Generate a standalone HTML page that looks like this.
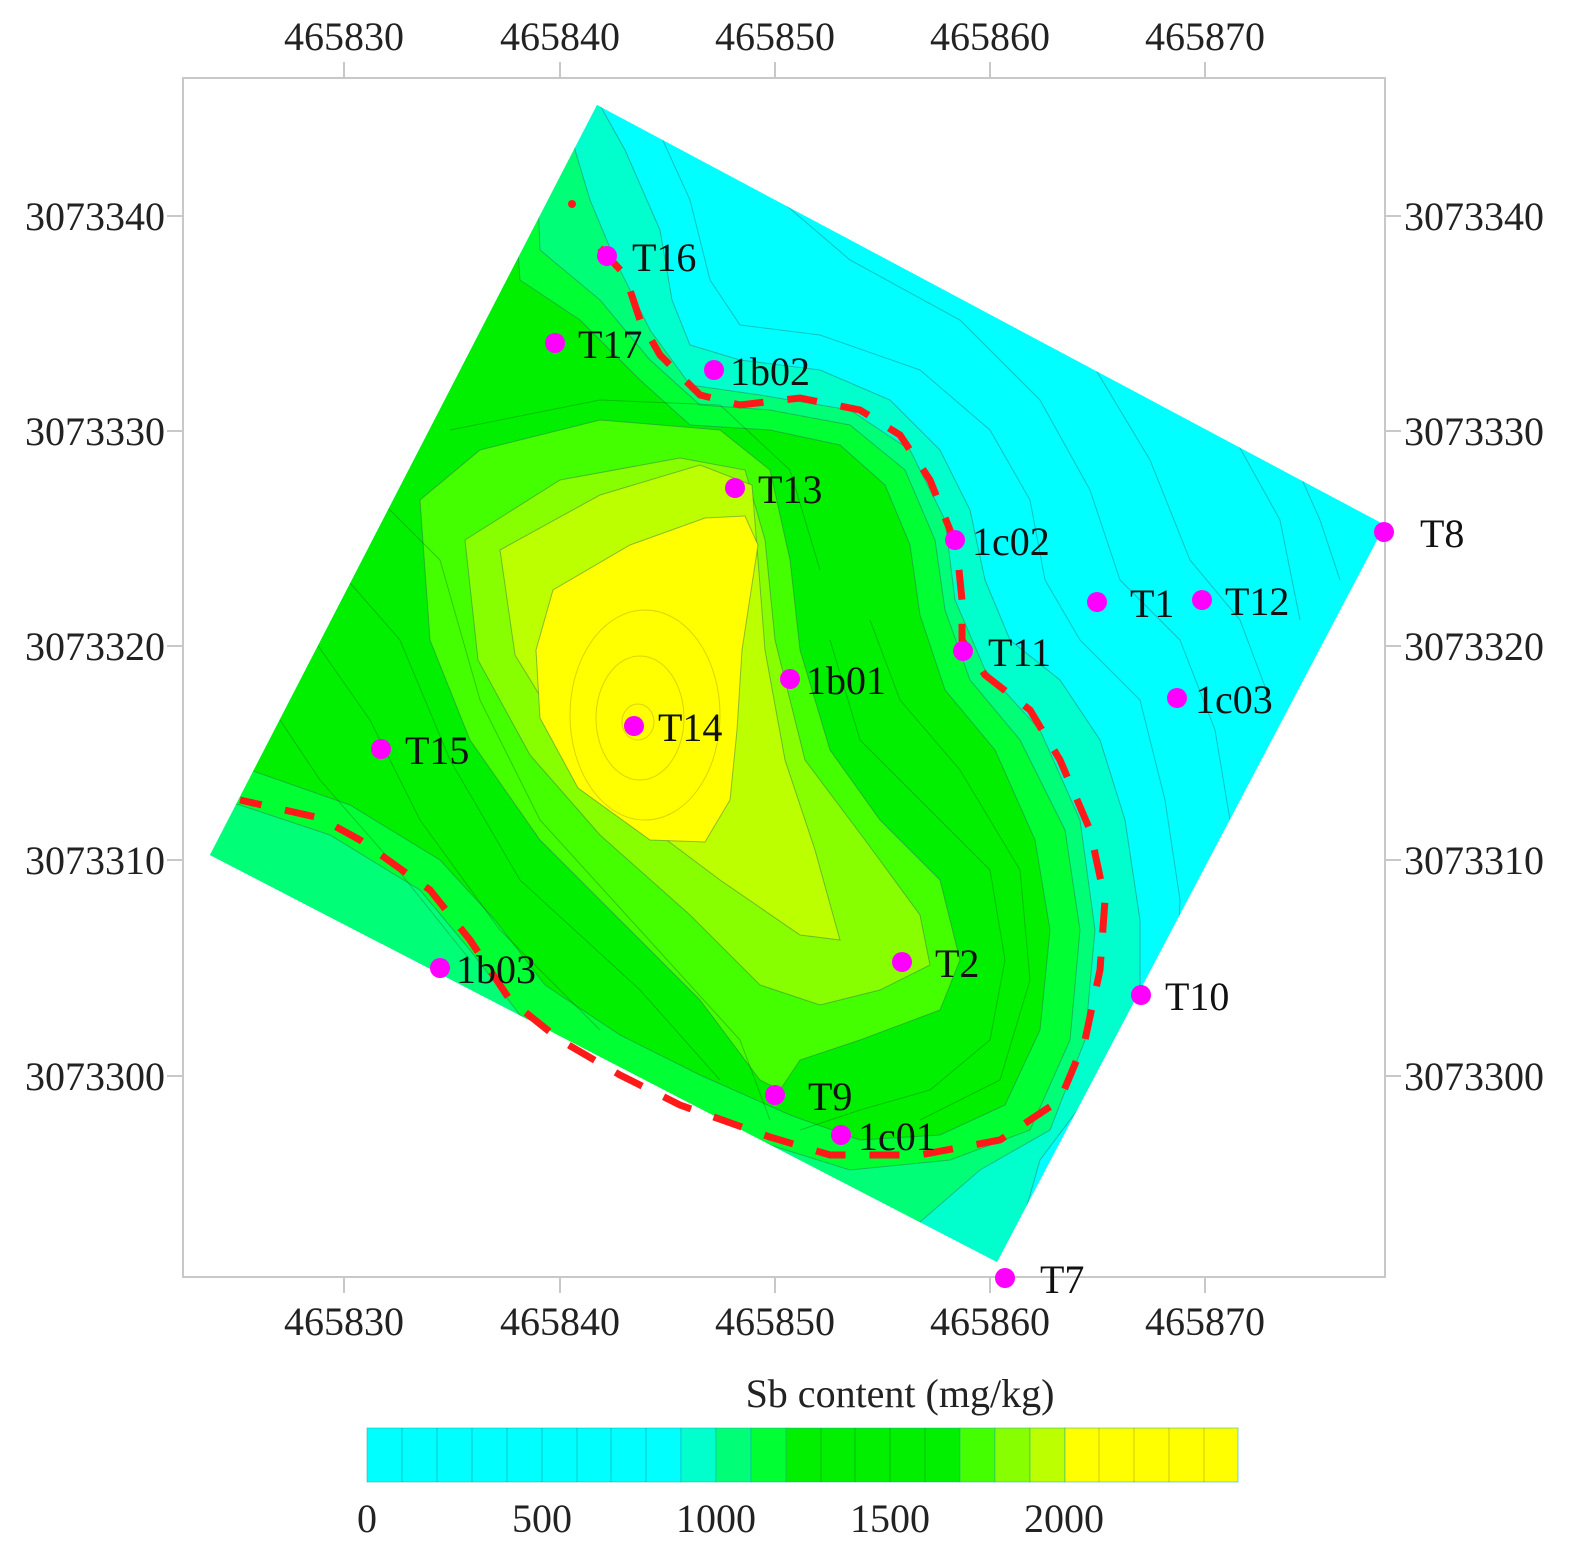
<!DOCTYPE html>
<html><head><meta charset="utf-8"><style>
html,body{margin:0;padding:0;background:#fff;}
svg{display:block;font-family:"Liberation Serif",serif;}
</style></head><body>
<svg width="1575" height="1551" viewBox="0 0 1575 1551" xmlns="http://www.w3.org/2000/svg">
<defs>
<clipPath id="sq"><polygon points="597,105 1385,525 997,1262 210,855"/></clipPath>
</defs>
<g clip-path="url(#sq)" stroke="#2a6a55" stroke-opacity="0.45" stroke-width="1">
<rect x="0" y="0" width="1575" height="1551" fill="#00ffff" stroke="none"/>
<polygon fill="#00ffcc" points="597,0 597,100 625,150 660,230 672,300 690,345 740,360 820,370 890,400 940,450 970,510 985,580 1010,640 1060,680 1100,740 1125,820 1140,920 1140,1000 1100,1080 1040,1160 1000,1300 0,1300 0,0"/>
<polygon fill="#00ff77" points="560,0 575,150 590,200 615,260 650,330 690,385 760,395 850,410 910,450 945,520 955,600 985,670 1040,730 1080,820 1095,930 1085,1040 1050,1130 980,1170 920,1222 880,1400 0,1400 0,0"/>
<polygon fill="#00ff33" points="530,0 540,250 600,300 650,360 700,405 770,410 850,425 905,470 935,540 945,610 970,680 1020,740 1065,830 1080,930 1070,1040 1030,1130 950,1160 850,1170 770,1145 680,1105 600,1065 520,1015 470,950 420,890 330,835 240,805 150,790 0,790 0,0"/>
<polygon fill="#00f000" points="500,0 520,280 580,320 640,380 690,425 770,430 840,445 885,485 910,545 920,615 945,690 995,750 1035,840 1050,930 1040,1030 1005,1105 940,1135 860,1140 790,1115 700,1075 620,1035 545,985 495,920 440,860 350,805 250,770 0,750"/>
<polygon fill="#44ff00" points="420,500 480,450 600,420 720,430 770,470 790,560 800,650 830,750 880,820 940,880 960,960 940,1010 860,1040 800,1060 780,1090 760,1080 700,1000 620,920 540,840 470,740 430,640"/>
<polygon fill="#88ff00" points="465,540 560,480 680,458 745,470 765,540 775,640 805,760 865,840 920,915 930,965 880,990 820,1005 760,985 690,915 600,835 530,755 478,660"/>
<polygon fill="#bbff00" points="500,550 600,495 700,465 752,485 758,560 765,650 785,760 815,850 840,940 800,935 720,880 640,820 570,745 515,655"/>
<polygon fill="#ffff00" points="705,518 745,516 758,545 742,650 737,730 730,800 705,842 650,840 578,788 540,718 536,650 553,590 630,545"/>
<ellipse cx="645" cy="715" rx="75" ry="105" fill="none" stroke="#b0a000"/>
<ellipse cx="640" cy="718" rx="44" ry="62" fill="none" stroke="#b0a000"/>
<ellipse cx="638" cy="722" rx="16" ry="18" fill="none" stroke="#b0a000"/>
<g fill="none" stroke="#1a8a8a" stroke-opacity="0.5">
<polyline points="640,90 690,200 710,280 740,325 820,335 920,370 990,430 1030,500 1045,580 1080,640 1140,700 1165,800 1180,900 1175,1000"/>
<polyline points="700,90 780,200 850,260 960,320 1040,400 1090,490 1120,580 1180,640 1215,730 1230,820"/>
<polyline points="800,120 900,220 1000,280 1090,360 1150,460 1190,560 1240,620 1270,700"/>
<polyline points="930,180 1050,270 1160,340 1230,430 1280,520 1300,620"/>
<polyline points="1100,270 1210,360 1280,430 1320,520 1340,580"/>
</g>
<g fill="none" stroke="#0a6a0a" stroke-opacity="0.35">
<polyline points="380,500 440,560 480,700 540,820 640,930 740,1040 770,1120"/>
<polyline points="330,560 400,640 450,760 520,880 640,990 720,1080"/>
<polyline points="300,620 370,720 420,820 500,930 600,1030"/>
<polyline points="260,690 320,780 390,860 470,960"/>
<polyline points="830,640 860,740 920,800 990,870 1005,960 990,1040 930,1090 860,1110 800,1130"/>
<polyline points="870,620 900,700 960,770 1020,870 1030,980 1000,1080 920,1120"/>
<polyline points="450,430 600,400 720,405 790,470 820,570"/>
</g>
</g>
<rect x="183" y="78" width="1202" height="1199" fill="none" stroke="#c8c8c8" stroke-width="2"/>
<g stroke="#c8c8c8" stroke-width="2">
<line x1="344" y1="62" x2="344" y2="78"/><line x1="560" y1="62" x2="560" y2="78"/><line x1="775" y1="62" x2="775" y2="78"/><line x1="990" y1="62" x2="990" y2="78"/><line x1="1205" y1="62" x2="1205" y2="78"/>
<line x1="344" y1="1277" x2="344" y2="1293"/><line x1="560" y1="1277" x2="560" y2="1293"/><line x1="775" y1="1277" x2="775" y2="1293"/><line x1="990" y1="1277" x2="990" y2="1293"/><line x1="1205" y1="1277" x2="1205" y2="1293"/>
<line x1="167" y1="216" x2="183" y2="216"/><line x1="167" y1="431" x2="183" y2="431"/><line x1="167" y1="646" x2="183" y2="646"/><line x1="167" y1="860" x2="183" y2="860"/><line x1="167" y1="1076" x2="183" y2="1076"/>
<line x1="1385" y1="216" x2="1401" y2="216"/><line x1="1385" y1="431" x2="1401" y2="431"/><line x1="1385" y1="646" x2="1401" y2="646"/><line x1="1385" y1="860" x2="1401" y2="860"/><line x1="1385" y1="1076" x2="1401" y2="1076"/>
</g>
<g font-size="40" fill="#222" text-anchor="middle">
<text x="344" y="50">465830</text><text x="560" y="50">465840</text><text x="775" y="50">465850</text><text x="990" y="50">465860</text><text x="1205" y="50">465870</text>
<text x="344" y="1335">465830</text><text x="560" y="1335">465840</text><text x="775" y="1335">465850</text><text x="990" y="1335">465860</text><text x="1205" y="1335">465870</text>
</g>
<g font-size="40" fill="#222" text-anchor="end">
<text x="165" y="230">3073340</text><text x="165" y="445">3073330</text><text x="165" y="660">3073320</text><text x="165" y="874">3073310</text><text x="165" y="1090">3073300</text>
</g>
<g font-size="40" fill="#222">
<text x="1404" y="230">3073340</text><text x="1404" y="445">3073330</text><text x="1404" y="660">3073320</text><text x="1404" y="874">3073310</text><text x="1404" y="1090">3073300</text>
</g>
<circle cx="572" cy="204" r="4" fill="#ff1a1a"/>
<polyline fill="none" stroke="#ff1a1a" stroke-width="7" stroke-dasharray="30 24" points="600,248 625,275 640,320 660,355 700,395 740,405 800,398 860,410 900,435 930,480 950,530 958,560 962,600 962,640 985,675 1030,710 1060,760 1090,830 1105,900 1100,970 1085,1040 1060,1100 1000,1140 920,1155 830,1155 770,1137 680,1105 620,1075 560,1040 510,1000 470,940 430,890 360,840 320,818 240,800"/>
<g fill="#ff00ff">
<circle cx="607" cy="256" r="10"/><circle cx="555" cy="343" r="10"/><circle cx="714" cy="370" r="10"/><circle cx="735" cy="488" r="10"/><circle cx="955" cy="540" r="10"/><circle cx="1097" cy="602" r="10"/><circle cx="1202" cy="600" r="10"/><circle cx="1384" cy="532" r="10"/><circle cx="963" cy="651" r="10"/><circle cx="1177" cy="698" r="10"/><circle cx="790" cy="679" r="10"/><circle cx="634" cy="726" r="10"/><circle cx="381" cy="749" r="10"/><circle cx="902" cy="962" r="10"/><circle cx="440" cy="968" r="10"/><circle cx="1141" cy="995" r="10"/><circle cx="775" cy="1095" r="10"/><circle cx="841" cy="1135" r="10"/><circle cx="1005" cy="1278" r="10"/>
</g>
<g font-size="40" fill="#111">
<text x="632" y="271">T16</text><text x="578" y="358">T17</text><text x="730" y="385">1b02</text><text x="758" y="503">T13</text><text x="972" y="555">1c02</text><text x="1130" y="617">T1</text><text x="1225" y="615">T12</text><text x="1420" y="547">T8</text><text x="988" y="666">T11</text><text x="1195" y="713">1c03</text><text x="806" y="694">1b01</text><text x="658" y="741">T14</text><text x="405" y="764">T15</text><text x="935" y="977">T2</text><text x="456" y="983">1b03</text><text x="1165" y="1010">T10</text><text x="808" y="1110">T9</text><text x="858" y="1150">1c01</text><text x="1040" y="1293">T7</text>
</g>
<text x="900" y="1407" font-size="40" fill="#222" text-anchor="middle">Sb content (mg/kg)</text>
<g stroke="#1aa" stroke-opacity="0.5" stroke-width="1">
<rect x="367" y="1428" width="314" height="54" fill="#00ffff"/>
<rect x="681" y="1428" width="35" height="54" fill="#00ffcc"/>
<rect x="716" y="1428" width="35" height="54" fill="#00ff77"/>
<rect x="751" y="1428" width="35" height="54" fill="#00ff33"/>
<rect x="786" y="1428" width="174" height="54" fill="#00f000"/>
<rect x="960" y="1428" width="35" height="54" fill="#44ff00"/>
<rect x="995" y="1428" width="35" height="54" fill="#88ff00"/>
<rect x="1030" y="1428" width="35" height="54" fill="#bbff00"/>
<rect x="1065" y="1428" width="173" height="54" fill="#ffff00"/>
</g>
<g stroke="#000" stroke-opacity="0.2">
<line x1="402" y1="1428" x2="402" y2="1482"/><line x1="437" y1="1428" x2="437" y2="1482"/><line x1="472" y1="1428" x2="472" y2="1482"/><line x1="507" y1="1428" x2="507" y2="1482"/><line x1="542" y1="1428" x2="542" y2="1482"/><line x1="577" y1="1428" x2="577" y2="1482"/><line x1="611" y1="1428" x2="611" y2="1482"/><line x1="646" y1="1428" x2="646" y2="1482"/>
<line x1="821" y1="1428" x2="821" y2="1482"/><line x1="855" y1="1428" x2="855" y2="1482"/><line x1="890" y1="1428" x2="890" y2="1482"/><line x1="925" y1="1428" x2="925" y2="1482"/>
<line x1="1099" y1="1428" x2="1099" y2="1482"/><line x1="1134" y1="1428" x2="1134" y2="1482"/><line x1="1169" y1="1428" x2="1169" y2="1482"/><line x1="1204" y1="1428" x2="1204" y2="1482"/>
</g>
<g font-size="40" fill="#222" text-anchor="middle">
<text x="367" y="1532">0</text><text x="542" y="1532">500</text><text x="716" y="1532">1000</text><text x="890" y="1532">1500</text><text x="1064" y="1532">2000</text>
</g>
</svg>
</body></html>
